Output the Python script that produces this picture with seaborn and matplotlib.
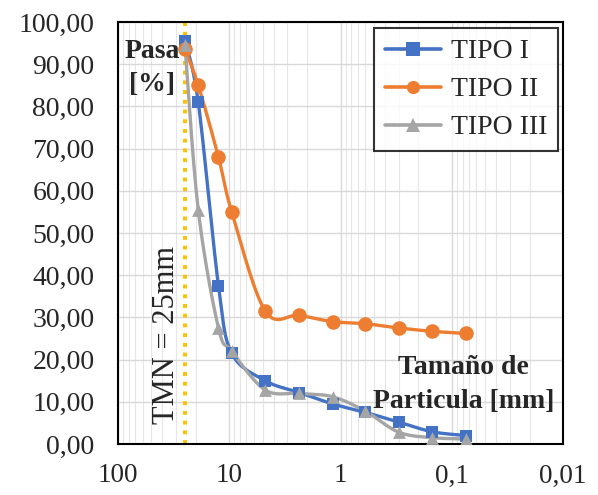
import numpy as np
import pandas as pd
import matplotlib
matplotlib.use('Agg')
import matplotlib.pyplot as plt
import seaborn as sns
from matplotlib.ticker import FixedLocator, FuncFormatter, LogLocator, NullFormatter, MultipleLocator
from matplotlib.lines import Line2D

# ---- data ----
sizes = [25, 19, 12.5, 9.5, 4.75, 2.36, 1.18, 0.6, 0.3, 0.15, 0.075]
tipo1 = [95.5, 81.0, 37.5, 21.5, 15.0, 12.2, 9.5, 7.5, 5.2, 2.9, 2.0]
tipo2 = [93.5, 85.0, 68.0, 55.0, 31.5, 30.5, 29.0, 28.5, 27.5, 26.7, 26.2]
tipo3 = [94.5, 55.5, 27.5, 22.0, 12.8, 12.0, 11.2, 7.8, 2.8, 1.5, 1.2]
series_names = ["TIPO I", "TIPO II", "TIPO III"]
x_ticks = [100, 10, 1, 0.1, 0.01]
x_ticklabels = ["100", "10", "1", "0,1", "0,01"]
tmn = 25

colors = ["#4472C4", "#ED7D31", "#A5A5A5"]
markers = ["s", "o", "^"]

sns.set_style("white")
plt.rcParams['font.family'] = ['Liberation Serif', 'DejaVu Serif']

fig = plt.figure(figsize=(5.98, 4.95), dpi=100)
ax = fig.add_axes([118/598, 1-444/495, (563-118)/598, (444-22)/495])
ax.set_xscale('log')
ax.set_xlim(100, 0.01)
ax.set_ylim(0, 100)

ax.xaxis.set_major_locator(FixedLocator(x_ticks))
ax.xaxis.set_minor_locator(LogLocator(base=10, subs=np.arange(2, 10)))
ax.xaxis.set_minor_formatter(NullFormatter())
ax.xaxis.set_major_formatter(FuncFormatter(
    lambda v, p: x_ticklabels[min(range(len(x_ticks)), key=lambda i: abs(np.log10(x_ticks[i]) - np.log10(v)))]))
ax.yaxis.set_major_locator(MultipleLocator(10))
ax.yaxis.set_major_formatter(FuncFormatter(lambda v, p: f"{v:.2f}".replace('.', ',')))
ax.grid(True, which='major', color='#D9D9D9', lw=1.0)
ax.grid(True, which='minor', axis='x', color='#E6E6E6', lw=0.8)
ax.set_axisbelow(True)
for s in ax.spines.values():
    s.set_color('black')
    s.set_linewidth(1.5)
ax.tick_params(axis='both', which='both', length=0)
ax.tick_params(axis='y', pad=17, labelsize=20)
ax.tick_params(axis='x', pad=14, labelsize=19.5)
ax.set_xlabel("")
ax.set_ylabel("")

fig.canvas.draw()

def smooth(xs, ys, n=30):
    pts = ax.transData.transform(np.column_stack([xs, ys]))
    P = np.vstack([pts[0], pts, pts[-1]])
    out = []
    for i in range(1, len(P) - 2):
        p0, p1, p2, p3 = P[i-1], P[i], P[i+1], P[i+2]
        c1 = p1 + (p2 - p0) / 6
        c2 = p2 - (p3 - p1) / 6
        t = np.linspace(0, 1, n)[:, None]
        seg = (1-t)**3*p1 + 3*(1-t)**2*t*c1 + 3*(1-t)*t**2*c2 + t**3*p2
        out.append(seg if i == 1 else seg[1:])
    out = np.vstack(out)
    data = ax.transData.inverted().transform(out)
    return data[:, 0], data[:, 1]

all_series = [tipo1, tipo2, tipo3]
msizes = [85, 110, 85]
for name, ys, c, m, ms in zip(series_names, all_series, colors, markers, msizes):
    sx, sy = smooth(sizes, ys)
    sns.lineplot(x=sx, y=sy, ax=ax, color=c, lw=2.4, sort=False, estimator=None, zorder=3)
    sns.scatterplot(x=sizes, y=ys, ax=ax, color=c, marker=m, s=ms, linewidth=0, zorder=4)

ax.axvline(tmn, color='#FFC000', ls=(0, (1, 1.5)), lw=2.8, zorder=2)

handles = [Line2D([0], [0], color=c, lw=2.6, marker=m, markersize=9.5, markeredgewidth=0)
           for c, m in zip(colors, markers)]
leg = ax.legend(handles, series_names, loc='upper right', bbox_to_anchor=(0.989, 0.986),
                borderaxespad=0, fontsize=20, frameon=True, fancybox=False, edgecolor='black',
                handlelength=2.0, handletextpad=0.35, borderpad=0.4, labelspacing=0.45)
leg.get_frame().set_linewidth(1.5)

bold = dict(fontsize=20, fontweight='bold', ha='center', va='center', transform=ax.transAxes)
ax.text(0.077, 0.929, "Pasa", **bold)
ax.text(0.077, 0.851, "[%]", **bold)
ax.text(0.776, 0.182, "Tamaño de", **bold)
ax.text(0.776, 0.100, "Particula [mm]", **bold)
ax.text(0.11, 0.258, "TMN = 25mm", fontsize=22, rotation=90, ha='center', va='center',
        transform=ax.transAxes)

fig.savefig("out.png", dpi=100)
